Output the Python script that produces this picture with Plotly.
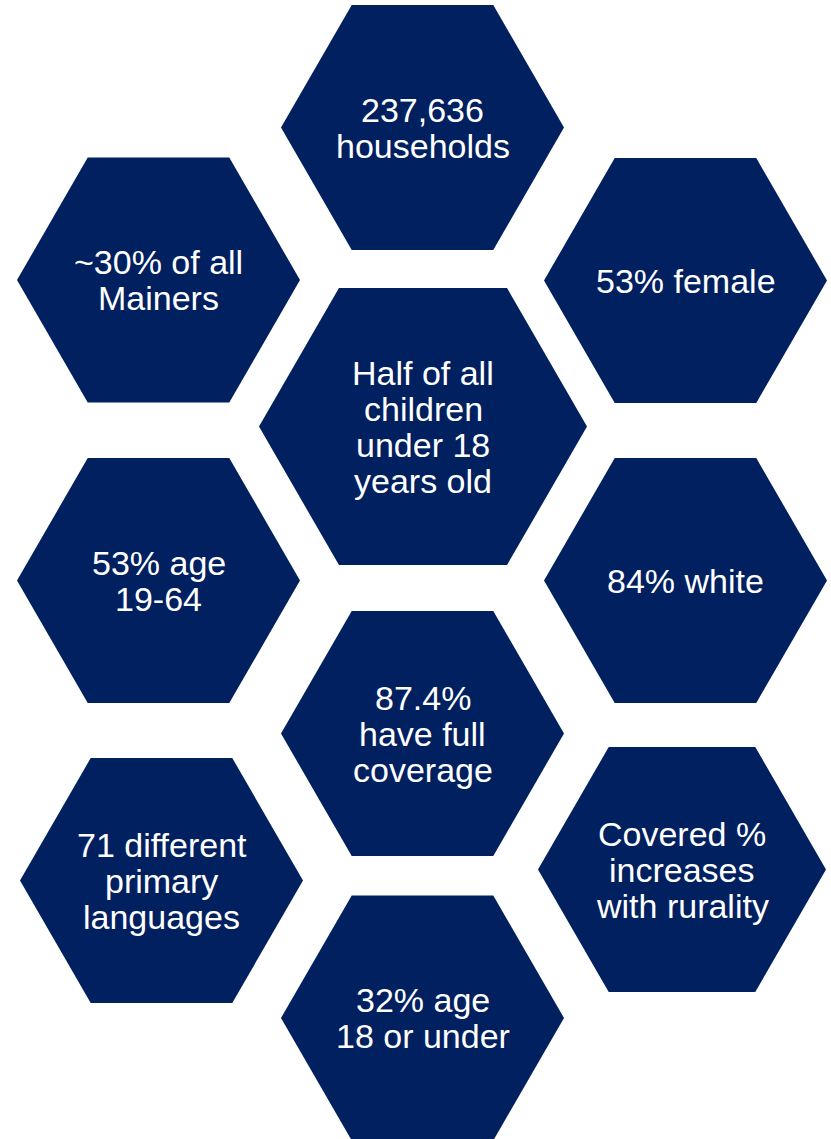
import math
import plotly.graph_objects as go

# 텍스트 (각 육각형)
labels = [
    "237,636<br>households",
    "~30% of all<br>Mainers",
    "53% female",
    "Half of all<br>children<br>under 18<br>years old",
    "53% age<br>19-64",
    "84% white",
    "87.4%<br>have full<br>coverage",
    "71 different<br>primary<br>languages",
    "Covered %<br>increases<br>with rurality",
    "32% age<br>18 or under",
]

# 레이아웃 (픽셀 좌표: 중심 x, 중심 y, 반폭, 반높이)
centers_x = [422.5, 158.5, 685.5, 423, 158.5, 685.5, 422.5, 161.5, 682, 422.5]
centers_y = [127.5, 280, 280.5, 426.5, 580.5, 580.5, 733.5, 880.5, 869.5, 1018]
half_w = [141.5, 141.5, 141.5, 164, 141.5, 141.5, 141.5, 141.5, 144, 141.5]
half_h = [122.5, 122.5, 122.5, 138.5, 122.5, 122.5, 122.5, 122.5, 122.5, 122.5]

W, H = 831, 1139
NAVY = "#002060"
LINE_GAP = 36


def hexagon(cx, cy, rx, ry):
    """좌우가 뾰족한 육각형 꼭짓점"""
    t = rx - ry / math.sqrt(3)
    xs = [cx - rx, cx - t, cx + t, cx + rx, cx + t, cx - t, cx - rx]
    ys = [cy, cy - ry, cy - ry, cy, cy + ry, cy + ry, cy]
    return xs, ys


fig = go.Figure()
annotations = []
for label, cx, cy, rx, ry in zip(labels, centers_x, centers_y, half_w, half_h):
    xs, ys = hexagon(cx, cy, rx, ry)
    fig.add_trace(go.Scatter(
        x=xs, y=ys, mode="lines", fill="toself",
        fillcolor=NAVY, line=dict(width=0, color=NAVY),
        hoverinfo="skip", showlegend=False
    ))
    lines = label.split("<br>")
    n = len(lines)
    for i, line in enumerate(lines):
        annotations.append(dict(
            x=cx, y=cy + (i - (n - 1) / 2) * LINE_GAP,
            xref="x", yref="y", text=line, showarrow=False,
            xanchor="center", yanchor="middle",
            font=dict(family="Liberation Sans, Arial, sans-serif", size=34, color="white")
        ))

fig.update_layout(
    width=W, height=H,
    margin=dict(l=0, r=0, t=0, b=0),
    paper_bgcolor="white", plot_bgcolor="white",
    xaxis=dict(range=[0, W], visible=False, fixedrange=True),
    yaxis=dict(range=[H, 0], visible=False, fixedrange=True),
    annotations=annotations,
    showlegend=False
)

# 브라우저 기본 body 여백 제거
fig.write_html(
    "out.html",
    config={"displayModeBar": False},
    post_script="document.body.style.margin='0';"
)
